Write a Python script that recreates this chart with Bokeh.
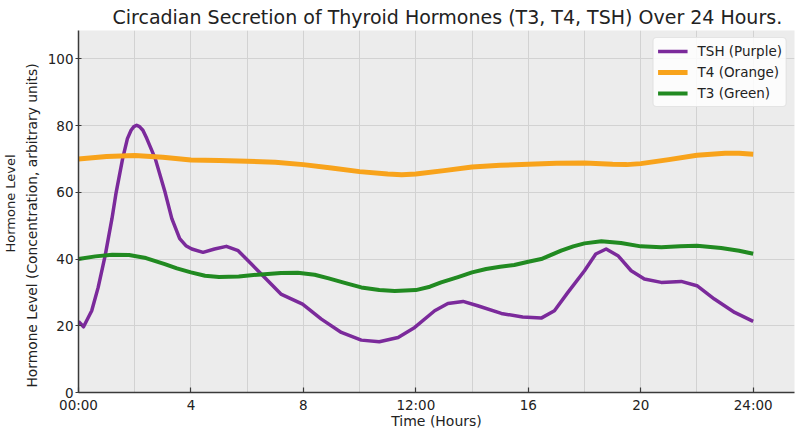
from bokeh.plotting import figure
from bokeh.models import Range1d, FixedTicker, Legend, LegendItem, Title
from bokeh.embed import file_html
from bokeh.resources import INLINE

# ---- data ----
tsh_hours = [0, 0.18, 0.47, 0.7, 0.95, 1.19, 1.34, 1.57, 1.74, 1.87, 1.97, 2.07, 2.17,
             2.29, 2.43, 2.73, 3.08, 3.32, 3.6, 3.82, 4.03, 4.43, 4.84, 5.26, 5.68, 6.15,
             6.5, 6.85, 7.2, 7.97, 8.64, 9.35, 10.06, 10.7, 11.37, 11.96, 12.67, 13.14,
             13.68, 14.2, 15.04, 15.8, 16.46, 16.93, 17.41, 18.0, 18.4, 18.77, 19.19,
             19.66, 20.13, 20.73, 21.44, 22.0, 22.62, 23.34, 24.0]
tsh_values = [21.3, 19.7, 24.5, 31.5, 41.1, 52.1, 60, 70.1, 76.1, 78.6, 79.7, 80.1, 79.7,
              78.6, 76.1, 70.1, 60, 52.1, 46.1, 44, 43, 42, 43, 43.8, 42.5, 38.5,
              35.5, 32.5, 29.5, 26.5, 22, 18, 15.7, 15.2, 16.5, 19.5, 24.5, 26.7,
              27.3, 26, 23.7, 22.6, 22.3, 24.5, 30, 36.5, 41.5, 43, 41,
              36.5, 34, 33, 33.3, 32, 28, 24, 21.3]

t4_hours = [0, 1, 2, 3, 4, 5, 6, 7, 8, 9, 10, 11, 11.5, 12, 13, 14, 15, 16, 17, 18,
            19, 19.5, 20, 21, 22, 23, 23.5, 24]
t4_values = [70, 70.7, 71, 70.5, 69.7, 69.5, 69.3, 69, 68.3, 67.3, 66.2, 65.5, 65.3,
             65.5, 66.5, 67.6, 68.1, 68.4, 68.7, 68.8, 68.4, 68.3, 68.6, 69.8, 71.1,
             71.7, 71.7, 71.4]

t3_hours = [0, 0.6, 1.2, 1.8, 2.4, 3.07, 3.5, 4, 4.5, 5, 5.7, 6.5, 7.2, 7.8, 8.4, 8.9,
            9.5, 10.06, 10.7, 11.25, 12, 12.5, 12.9, 13.5, 14, 14.5, 15, 15.5, 16,
            16.46, 17.17, 17.6, 18, 18.6, 19.3, 20, 20.73, 21.4, 22, 22.86, 23.5, 24]
t3_values = [40, 40.8, 41.3, 41.2, 40.3, 38.5, 37.2, 36, 35, 34.6, 34.8, 35.4, 35.8,
             35.9, 35.3, 34.2, 32.8, 31.5, 30.7, 30.4, 30.7, 31.7, 33, 34.6, 36, 37,
             37.7, 38.2, 39.2, 40, 42.5, 43.8, 44.7, 45.3, 44.8, 43.8, 43.5, 43.8, 44,
             43.3, 42.5, 41.6]

x_ticks = [0, 4, 8, 12, 16, 20, 24]
x_tick_labels = {0: "00:00", 4: "4", 8: "8", 12: "12:00", 16: "16", 20: "20", 24: "24:00"}
x_grid = [0, 2, 4, 6, 8, 10, 12, 14, 16, 18, 20, 22, 24]
y_ticks = [0, 20, 40, 60, 80, 100]

series_names = ["TSH (Purple)", "T4 (Orange)", "T3 (Green)"]
series_colors = ["#7b2a9b", "#f8a31b", "#218a21"]

title_text = "Circadian Secretion of Thyroid Hormones (T3, T4, TSH) Over 24 Hours."
x_label = "Time (Hours)"
y_label_lines = ["Hormone Level", "Hormone Level (Concentration, arbitrary units)"]

FONT = "DejaVu Sans"
TXT = "#222222"

p = figure(frame_width=716, frame_height=362, output_backend="svg", toolbar_location=None,
           x_range=Range1d(0, 25.47), y_range=Range1d(0, 108.5),
           min_border_left=77, min_border_right=1, min_border_top=30, min_border_bottom=30)

p.title.text = title_text
p.title.align = "left"
p.title.offset = 34
p.title.standoff = 5
p.title.text_font = FONT
p.title.text_font_size = "19px"
p.title.text_font_style = "normal"
p.title.text_color = TXT

p.background_fill_color = "#ececec"
p.border_fill_color = "white"
p.outline_line_color = None

r_tsh = p.line(tsh_hours, tsh_values, line_color=series_colors[0], line_width=3.5, line_join="round")
r_t4 = p.line(t4_hours, t4_values, line_color=series_colors[1], line_width=5, line_join="round")
r_t3 = p.line(t3_hours, t3_values, line_color=series_colors[2], line_width=4, line_join="round")

p.xaxis.ticker = FixedTicker(ticks=x_ticks)
p.xaxis.major_label_overrides = x_tick_labels
p.yaxis.ticker = FixedTicker(ticks=y_ticks)
p.xgrid.ticker = FixedTicker(ticks=x_grid)
p.ygrid.ticker = FixedTicker(ticks=y_ticks)
p.grid.grid_line_color = "#d2d2d2"
p.grid.grid_line_width = 1

for ax in (p.xaxis, p.yaxis):
    ax.axis_line_color = "#3a3a3a"
    ax.axis_line_width = 1.5
    ax.major_tick_line_color = "#3a3a3a"
    ax.major_tick_line_width = 1.2
    ax.minor_tick_line_color = None
    ax.major_label_text_font = FONT
    ax.major_label_text_font_size = "13.5px"
    ax.major_label_text_color = TXT
    ax.axis_label_text_font = FONT
    ax.axis_label_text_font_size = "14px"
    ax.axis_label_text_font_style = "normal"
    ax.axis_label_text_color = TXT

p.xaxis.major_tick_in = 5
p.xaxis.major_tick_out = 0
p.xaxis.major_label_standoff = 4
p.xaxis.axis_label = x_label
p.xaxis.axis_label_standoff = -3

p.yaxis.major_tick_in = 3
p.yaxis.major_tick_out = 3
p.yaxis.major_label_standoff = 2

# two-line y label: the line nearer the axis first, then the outer line
p.add_layout(Title(text=y_label_lines[1], align="left", offset=5, standoff=9,
                   text_font=FONT, text_font_size="13.8px", text_font_style="normal",
                   text_color=TXT), "left")
p.add_layout(Title(text=y_label_lines[0], align="left", offset=140, standoff=0,
                   text_font=FONT, text_font_size="13px", text_font_style="normal",
                   text_color=TXT), "left")

legend = Legend(items=[LegendItem(label=series_names[0], renderers=[r_tsh]),
                       LegendItem(label=series_names[1], renderers=[r_t4]),
                       LegendItem(label=series_names[2], renderers=[r_t3])],
                location="top_right", margin=7, padding=4, spacing=3,
                glyph_width=30, glyph_height=18, label_height=18, label_standoff=10,
                label_text_font=FONT, label_text_font_size="13.5px", label_text_color=TXT,
                background_fill_color="white", background_fill_alpha=0.85,
                border_line_color="#cccccc", border_radius=4)
p.add_layout(legend, "center")

open("out.html", "w").write(file_html(p, INLINE))
